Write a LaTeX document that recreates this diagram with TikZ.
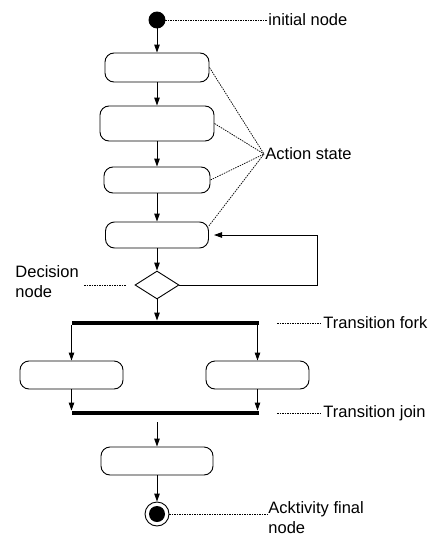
\documentclass[tikz,border=0pt]{standalone}
\usepackage{fontspec}
\setmainfont{Liberation Sans}
\usetikzlibrary{shapes.geometric,arrows.meta}

\tikzset{
	act/.style={draw,rounded corners=9pt,minimum width=104pt,minimum height=29pt,inner sep=0pt},
	flow/.style={-{Triangle[length=8pt,width=5.5pt]}},
	note/.style={dash pattern=on 1.5pt off 1pt,line width=0.7pt},
	lbl/.style={font=\fontsize{16.5}{20}\selectfont,inner sep=1pt,anchor=west,align=left},
	bar/.style={fill=black,minimum width=187pt,minimum height=4pt,inner sep=0pt},
}

\begin{document}
\begin{tikzpicture}[x=1pt,y=-1pt,line width=0.9pt]
	\useasboundingbox (0,0) rectangle (435,538);

	\node[draw,circle,fill=black,minimum size=16pt,inner sep=0pt] (init) at (157,20) {};
	\node[act] (a1) at (157,67.5) {};
	\node[act,minimum width=114pt,minimum height=35pt] (a2) at (157,123.5) {};
	\node[act,minimum width=106pt,minimum height=26pt] (a3) at (157,180) {};
	\node[act,minimum width=103pt,minimum height=26pt] (a4) at (157,235) {};
	\node[draw,diamond,minimum width=44pt,minimum height=28pt,inner sep=0pt] (dec) at (157,285) {};
	\node[bar] (fork) at (165.5,323) {};
	\node[act,minimum width=103pt,minimum height=28pt] (b1) at (71.5,375) {};
	\node[act,minimum width=103pt,minimum height=28pt] (b2) at (257.5,375) {};
	\node[bar] (join) at (165.5,413) {};
	\coordinate (jn) at (157,422);
	\node[act,minimum width=112pt,minimum height=28pt] (a5) at (157,461) {};
	\node[draw,circle,minimum size=24pt,inner sep=0pt] (fin) at (157,514) {};
	\fill (fin) circle (8pt);

	\draw[flow] (init) -- (a1);
	\draw[flow] (a1) -- (a2);
	\draw[flow] (a2) -- (a3);
	\draw[flow] (a3) -- (a4);
	\draw[flow] (a4) -- (dec);
	\draw[flow] (dec.south) -- (dec.south |- fork.north);
	\draw[flow] (b1.north |- fork.south) -- (b1.north);
	\draw[flow] (b2.north |- fork.south) -- (b2.north);
	\draw[flow] (b1.south) -- (b1.south |- join.north);
	\draw[flow] (b2.south) -- (b2.south |- join.north);
	\draw[flow] (jn) -- (a5);
	\draw[flow] (a5) -- (fin);

	% loop back
	\coordinate (ret) at (214,235);
	\draw[flow] (dec.east) -- ++(138,0) |- (ret);

	% labels
	\node[lbl] (tinit) at (267,20) {initial node};
	\node[lbl] (tact) at (264,154) {Action state};
	\node[lbl,inner sep=0pt] (tdec) at (15,282) {Decision\\node};
	\coordinate (dn) at (126,285);
	\node[lbl] (tfork) at (322,323) {Transition fork};
	\node[lbl] (tjoin) at (322,413) {Transition join};
	\node[lbl] (tfin) at (267,518) {Acktivity final\\node};

	\draw[note] (init) -- (tinit);
	\draw[note] (a1.east) -- (tact.west);
	\draw[note] (a2.east) -- (tact.west);
	\draw[note] (a3.east) -- (tact.west);
	\draw[note] (a4.10) -- (tact.west);
	\draw[note,shorten <=5pt] (tdec.east |- dn) -- (dn);
	\draw[note,shorten <=18pt] (fork.east) -- (tfork.west);
	\draw[note,shorten <=18pt] (join.east) -- (tjoin.west);
	\draw[note] (fin) -- (fin -| tfin.west);
\end{tikzpicture}
\end{document}
